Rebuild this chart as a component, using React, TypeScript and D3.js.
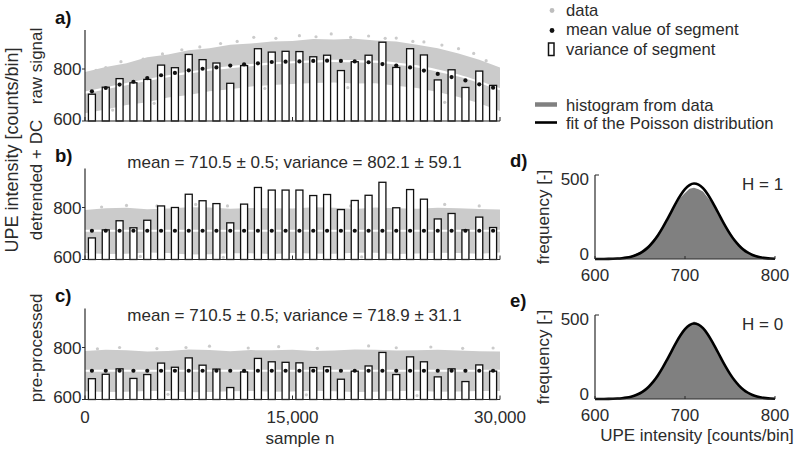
import React from "react";
import * as d3 from "d3";

// ---------- DATA ----------
// segment centres (samples) for 30 segments of 1000 samples
const segmentCenters = [500,1500,2500,3500,4500,5500,6500,7500,8500,9500,10500,11500,12500,13500,14500,15500,16500,17500,18500,19500,20500,21500,22500,23500,24500,25500,26500,27500,28500,29500];

// panel a) raw signal
const rawMeans = [714,727,740,751,765,776,785,795,801,806,813,818,822,827,828,829,831,832,831,829,826,819,813,806,794,781,769,756,741,728];
const rawVariances = [703,730,763,747,760,815,805,856,836,823,745,813,878,865,868,867,847,853,794,828,853,903,806,878,854,758,797,729,792,737];
// panel b) detrended + DC
const detMeans = [710.5,710.5,710.5,710.5,710.5,710.5,710.5,710.5,710.5,710.5,710.5,710.5,710.5,710.5,710.5,710.5,710.5,710.5,710.5,710.5,710.5,710.5,710.5,710.5,710.5,710.5,710.5,710.5,710.5,710.5];
const detVariances = [683,714,749,722,751,806,800,851,826,815,741,813,877,867,867,867,846,850,792,827,847,897,799,869,832,756,777,714,763,723];
// panel c) pre-processed
const preMeans = [710.5,710.5,710.5,710.5,710.5,710.5,710.5,710.5,710.5,710.5,710.5,710.5,710.5,710.5,710.5,710.5,710.5,710.5,710.5,710.5,710.5,710.5,710.5,710.5,710.5,710.5,710.5,710.5,710.5,710.5];
const preVariances = [680,697,718,681,696,740,724,760,732,717,646,706,758,745,743,741,723,726,678,709,729,781,696,764,745,687,718,669,733,709];

// data cloud envelope (read at every 1500 samples)
const cloudSamples = [0,1500,3000,4500,6000,7500,9000,10500,12000,13500,15000,16500,18000,19500,21000,22500,24000,25500,27000,28500,30000];
const rawTrend = [709,726,742,758,772,786,797,807,815,821,826,829,831,830,828,821,810,794,775,750,722];
const rawCloudHigh = [788,808,822,845,856,872,880,893,898,906,908,915,913,916,910,906,893,880,860,836,806];
const rawCloudLow = [630,644,662,672,690,700,714,722,733,738,742,746,748,744,745,736,727,712,692,668,638];
const detTrend = [710.5,710.5,710.5,710.5,710.5,710.5,710.5,710.5,710.5,710.5,710.5,710.5,710.5,710.5,710.5,710.5,710.5,710.5,710.5,710.5,710.5];
const detCloudHigh = [790,797,799,793,796,801,800,795,798,797,796,801,799,794,800,797,795,799,797,794,792];
const detCloudLow = [625,621,622,627,625,619,620,624,624,621,625,623,622,626,626,621,623,626,625,622,627];
const preTrend = [710.5,710.5,710.5,710.5,710.5,710.5,710.5,710.5,710.5,710.5,710.5,710.5,710.5,710.5,710.5,710.5,710.5,710.5,710.5,710.5,710.5];
const preCloudHigh = [787,791,789,785,787,792,790,786,790,789,791,787,788,792,791,788,789,791,788,786,785];
const preCloudLow = [632,629,630,633,633,628,629,632,633,630,631,634,632,629,630,633,634,630,631,633,633];

// isolated data points outside the dense cloud [sample, value]
const rawOutliers = [[800,795],[1500,805],[2600,828],[4200,838],[5600,858],[7000,874],[8300,885],[9800,898],[11000,906],[12200,922],[13800,918],[15500,928],[16700,924],[17800,935],[19200,922],[20500,927],[21700,918],[22500,919],[23700,906],[24500,904],[25800,892],[27000,878],[28100,860],[29000,832],[2000,642],[5000,668],[13000,725],[19000,728],[26000,672]];
const detOutliers = [[1200,802],[3000,808],[5200,806],[8000,812],[10300,806],[12500,815],[14600,808],[17500,818],[19200,806],[21500,812],[23400,808],[26000,812],[28500,806],[4000,612],[10000,608],[20000,610]];
const preOutliers = [[900,795],[2500,800],[5200,796],[7300,800],[9000,805],[11800,798],[14000,803],[16800,797],[20500,806],[22500,799],[25000,802],[27300,797],[29500,798],[6000,620],[16000,618],[24000,615]];

// histograms (counts per bin, read every 5 counts/bin)
const histBins = [600,605,610,615,620,625,630,635,640,645,650,655,660,665,670,675,680,685,690,695,700,705,710,715,720,725,730,735,740,745,750,755,760,765,770,775,780,785,790,795,800];
const histDetrended = [0.3,0.5,0.9,1.6,2.5,4.8,7.0,12.8,18.5,30.2,42.0,63.5,85.0,118.0,150.5,195.0,235.0,284.0,323.0,366.0,393.0,418.0,424.0,415.0,402.0,368.0,335.0,289.0,248.0,199.0,161.0,121.0,93.0,65.0,47.5,30.5,21.5,12.8,8.6,4.5,3.0];
const histPreprocessed = [0.1,0.3,0.5,0.9,1.4,3.0,4.6,8.9,13.5,23.5,34.0,53.5,74.0,107.5,140.0,188.0,231.0,287.0,330.0,381.0,410.0,441.0,462.0,448.0,416.0,389.0,339.0,297.0,240.0,197.0,148.0,115.0,79.0,58.0,36.5,25.5,14.8,9.8,5.2,3.3,1.5];
const poissonFit = [0.08,0.18,0.37,0.73,1.41,2.62,4.70,8.13,13.6,21.9,34.2,51.4,74.6,104.6,141.6,185.0,233.4,284.1,334.1,379.1,415.5,439.5,449.0,442.7,421.4,387.2,343.6,294.3,243.4,194.3,149.7,111.4,80.1,55.5,37.2,24.0,15.0,9.0,5.3,2.95,1.6];

const leftYTicks = [600, 800];
const leftXTicks = [0, 15000, 30000];
const leftXTickLabels = ["0", "15,000", "30,000"];
const histXTicks = [600, 700, 800];
const histYTicks = [0, 500];

// ---------- STYLE ----------
const FONT = "'Liberation Sans', Arial, Helvetica, sans-serif";
const INK = "#2b2b2b";
const CLOUD = "#cbcbcb";
const HIST = "#808080";

const xScale = d3.scaleLinear().domain([0, 30000]).range([85, 500]);

type PanelProps = {
  bottom: number;
  label: string;
  labelY: number;
  name: string;
  nameY: number;
  means: number[];
  variances: number[];
  trend: number[];
  cloudHigh: number[];
  cloudLow: number[];
  outliers: number[][];
  stats?: string;
  statsY?: number;
  showXLabels?: boolean;
};

function SegmentPanel(p: PanelProps) {
  const y = d3.scaleLinear().domain([600, 950]).range([p.bottom, p.bottom - 91]);
  const area = d3
    .area<number>()
    .x((_, i) => xScale(cloudSamples[i]))
    .y0((_, i) => y(p.cloudLow[i]))
    .y1((_, i) => y(p.cloudHigh[i]))
    .curve(d3.curveLinear);
  const trendLine = d3
    .line<number>()
    .x((_, i) => xScale(cloudSamples[i]))
    .y((d) => y(d))
    .curve(d3.curveMonotoneX);
  const barW = 7;
  const top = y(950);
  return (
    <g>
      <path d={area(p.cloudHigh) || ""} fill={CLOUD} />
      {p.outliers.map((o, i) => (
        <circle key={"o" + i} cx={xScale(o[0])} cy={y(o[1])} r={1.6} fill={CLOUD} />
      ))}
      <path d={trendLine(p.trend) || ""} fill="none" stroke="#ffffff" strokeWidth={2.2} />
      {p.variances.map((v, i) => (
        <rect
          key={"b" + i}
          x={xScale(segmentCenters[i]) - barW / 2}
          y={y(v)}
          width={barW}
          height={p.bottom - y(v)}
          fill="#ffffff"
          stroke="#111111"
          strokeWidth={1.3}
        />
      ))}
      {p.means.map((m, i) => (
        <circle key={"m" + i} cx={xScale(segmentCenters[i])} cy={y(m)} r={2.1} fill="#111111" />
      ))}
      {/* axes */}
      <line x1={85} x2={85} y1={top} y2={p.bottom} stroke={INK} strokeWidth={1.2} />
      <line x1={85} x2={500} y1={p.bottom} y2={p.bottom} stroke={INK} strokeWidth={1.2} />
      {leftYTicks.map((t) => (
        <g key={"yt" + t}>
          <line x1={82} x2={85} y1={y(t)} y2={y(t)} stroke={INK} strokeWidth={1} />
          <text x={81.5} y={y(t) + (t === 600 ? 3.5 : 6)} textAnchor="end" fontSize={17} fill={INK} fontFamily={FONT}>
            {t}
          </text>
        </g>
      ))}
      {leftXTicks.map((t, i) => (
        <g key={"xt" + t}>
          <line x1={xScale(t)} x2={xScale(t)} y1={p.bottom} y2={p.bottom - 4} stroke={INK} strokeWidth={1} />
          {p.showXLabels && (
            <text x={xScale(t)} y={p.bottom + 23} textAnchor="middle" fontSize={17} fill={INK} fontFamily={FONT}>
              {leftXTickLabels[i]}
            </text>
          )}
        </g>
      ))}
      <text x={55} y={p.labelY} fontSize={18.5} fontWeight="bold" fill="#111" fontFamily={FONT}>
        {p.label}
      </text>
      <text
        transform={`translate(42,${p.nameY}) rotate(-90)`}
        textAnchor="middle"
        fontSize={17}
        fill={INK}
        fontFamily={FONT}
      >
        {p.name}
      </text>
      {p.stats && (
        <text x={294.5} y={p.statsY} textAnchor="middle" fontSize={17} fill={INK} fontFamily={FONT}>
          {p.stats}
        </text>
      )}
    </g>
  );
}

type HistProps = {
  bottom: number;
  label: string;
  counts: number[];
  hText: string;
  showXTitle?: boolean;
};

const hx = d3.scaleLinear().domain([600, 800]).range([595, 775]);

function HistPanel(p: HistProps) {
  const y = d3.scaleLinear().domain([0, 500]).range([p.bottom, p.bottom - 84]);
  const area = d3
    .area<number>()
    .x((_, i) => hx(histBins[i]))
    .y0(p.bottom)
    .y1((d) => y(d))
    .curve(d3.curveLinear);
  const fit = d3
    .line<number>()
    .x((_, i) => hx(histBins[i]))
    .y((d) => y(d))
    .curve(d3.curveMonotoneX);
  return (
    <g>
      <path d={area(p.counts) || ""} fill={HIST} />
      <path d={fit(poissonFit) || ""} fill="none" stroke="#000" strokeWidth={2.6} />
      <line x1={595} x2={595} y1={y(500)} y2={p.bottom} stroke={INK} strokeWidth={1.2} />
      <line x1={595} x2={775} y1={p.bottom} y2={p.bottom} stroke={INK} strokeWidth={1.2} />
      <line x1={595} x2={599} y1={y(500)} y2={y(500)} stroke={INK} strokeWidth={1} />
      {histYTicks.map((t) => (
        <text key={"hy" + t} x={589} y={t === 0 ? p.bottom + 0.5 : y(t) + 10} textAnchor="end" fontSize={17} fill={INK} fontFamily={FONT}>
          {t}
        </text>
      ))}
      {histXTicks.map((t) => (
        <g key={"hx" + t}>
          <line x1={hx(t)} x2={hx(t)} y1={p.bottom} y2={p.bottom - 3} stroke={INK} strokeWidth={1} />
          <text x={hx(t)} y={p.bottom + 22} textAnchor="middle" fontSize={17} fill={INK} fontFamily={FONT}>
            {t}
          </text>
        </g>
      ))}
      <text x={510} y={p.bottom - 84 - 8} fontSize={18.5} fontWeight="bold" fill="#111" fontFamily={FONT}>
        {p.label}
      </text>
      <text
        transform={`translate(549,${p.bottom - 42}) rotate(-90)`}
        textAnchor="middle"
        fontSize={17}
        fill={INK}
        fontFamily={FONT}
      >
        frequency [-]
      </text>
      <text x={742} y={p.bottom - 69} fontSize={17} fill={INK} fontFamily={FONT}>
        {p.hText}
      </text>
      {p.showXTitle && (
        <text x={697} y={p.bottom + 42} textAnchor="middle" fontSize={17} fill={INK} fontFamily={FONT}>
          UPE intensity [counts/bin]
        </text>
      )}
    </g>
  );
}

export default function App() {
  return (
    <svg
      width={800}
      height={454}
      viewBox="0 0 800 454"
      style={{ position: "absolute", left: 0, top: 0, background: "#fff" }}
    >
      <rect x={0} y={0} width={800} height={454} fill="#fff" />
      <SegmentPanel
        bottom={121}
        label="a)"
        labelY={24}
        name="raw signal"
        nameY={66}
        means={rawMeans}
        variances={rawVariances}
        trend={rawTrend}
        cloudHigh={rawCloudHigh}
        cloudLow={rawCloudLow}
        outliers={rawOutliers}
      />
      <SegmentPanel
        bottom={259.5}
        label="b)"
        labelY={161.5}
        name="detrended + DC"
        nameY={180}
        means={detMeans}
        variances={detVariances}
        trend={detTrend}
        cloudHigh={detCloudHigh}
        cloudLow={detCloudLow}
        outliers={detOutliers}
        stats="mean = 710.5 ± 0.5; variance = 802.1 ± 59.1"
        statsY={168}
      />
      <SegmentPanel
        bottom={399.5}
        label="c)"
        labelY={301.5}
        name="pre-processed"
        nameY={348}
        means={preMeans}
        variances={preVariances}
        trend={preTrend}
        cloudHigh={preCloudHigh}
        cloudLow={preCloudLow}
        outliers={preOutliers}
        stats="mean = 710.5 ± 0.5; variance = 718.9 ± 31.1"
        statsY={320.5}
        showXLabels
      />
      <text transform="translate(18,150) rotate(-90)" textAnchor="middle" fontSize={18} fill={INK} fontFamily={FONT}>
        UPE intensity [counts/bin]
      </text>
      <text x={300} y={444} textAnchor="middle" fontSize={17} fill={INK} fontFamily={FONT}>
        sample n
      </text>

      <HistPanel bottom={259} label="d)" counts={histDetrended} hText="H = 1" />
      <HistPanel bottom={399} label="e)" counts={histPreprocessed} hText="H = 0" showXTitle />

      {/* legend */}
      <g fontFamily={FONT} fontSize={16.6} fill={INK}>
        <circle cx={552} cy={10.5} r={2.4} fill="#bdbdbd" />
        <text x={566} y={15.7}>data</text>
        <circle cx={552} cy={30.5} r={2.4} fill="#111" />
        <text x={566} y={35}>mean value of segment</text>
        <rect x={548.5} y={43} width={5.5} height={12.5} fill="#fff" stroke="#111" strokeWidth={1.5} />
        <text x={566} y={55}>variance of segment</text>
        <line x1={535} x2={557} y1={104.5} y2={104.5} stroke={HIST} strokeWidth={4.5} />
        <text x={566} y={111}>histogram from data</text>
        <line x1={535} x2={557} y1={122.5} y2={122.5} stroke="#000" strokeWidth={2.6} />
        <text x={566} y={129}>fit of the Poisson distribution</text>
      </g>
    </svg>
  );
}
